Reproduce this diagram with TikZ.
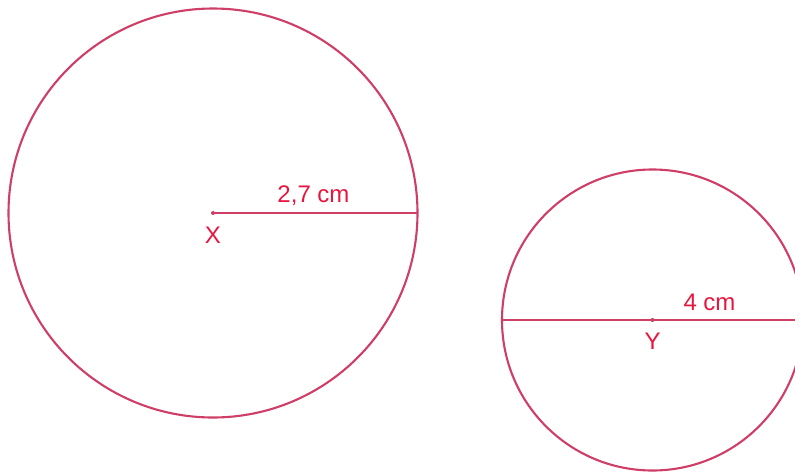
\documentclass[tikz,border=0pt]{standalone}
\usepackage{fontspec}
\setmainfont{Liberation Sans}
\definecolor{lineRed}{RGB}{206,62,102}
\definecolor{textRed}{RGB}{232,22,62}
\tikzset{
  circ/.style={draw=lineRed, line width=2.1pt},
  radline/.style={draw=lineRed, line width=2.1pt},
  lbl/.style={text=textRed, font=\fontsize{24}{27}\selectfont, inner sep=0pt},
  ctr/.style={circle, fill=lineRed, inner sep=0pt, minimum size=4pt}
}
\begin{document}
\begin{tikzpicture}[x=1pt,y=-1pt]
\clip (0,0) rectangle (795,472);
% circle X
\node[ctr] (X) at (213,213) {};
\draw[circ] (X.center) circle (204.5);
\coordinate (XR) at (417.5,213);
\draw[radline] (X.center) -- (XR);
\node[lbl] (lx) at (213,235) {X};
\node[lbl] (l27) at (313.5,196) {2,7 cm};
% circle Y
\node[ctr] (Y) at (652.5,320) {};
\draw[circ] (Y.center) circle (150.5);
\coordinate (YL) at (502,320);
\coordinate (YR) at (803,320);
\draw[radline] (YL) -- (YR);
\node[lbl] (ly) at (652.5,341) {Y};
\node[lbl] (l4) at (709.5,302) {4 cm};
\end{tikzpicture}
\end{document}
